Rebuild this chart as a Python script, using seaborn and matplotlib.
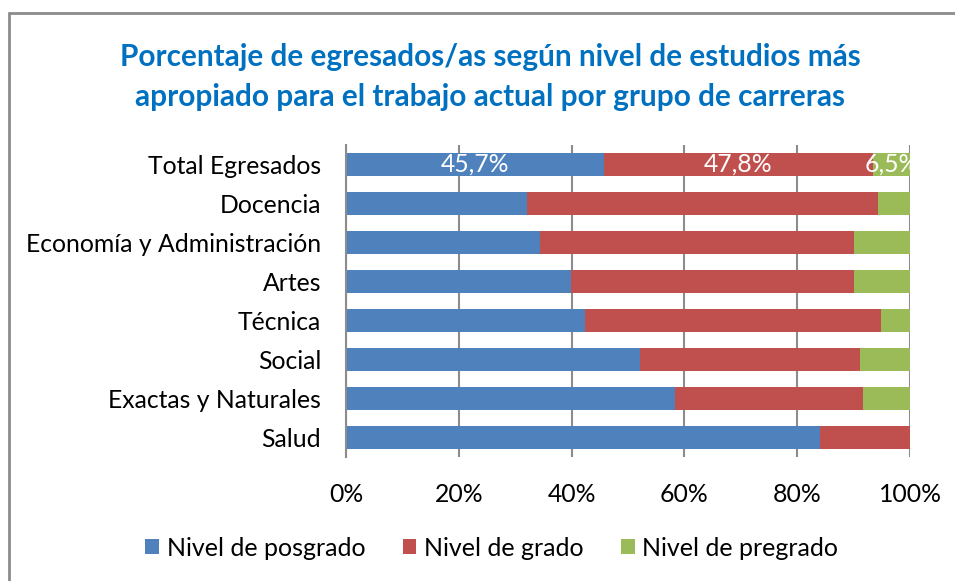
import matplotlib.pyplot as plt
import pandas as pd
import seaborn as sns
from matplotlib.lines import Line2D
from matplotlib.patches import Patch

# ===== DATA =====
categories = [
    "Total Egresados",
    "Docencia",
    "Economía y Administración",
    "Artes",
    "Técnica",
    "Social",
    "Exactas y Naturales",
    "Salud",
]
posgrado = [45.7, 32.1, 34.4, 39.9, 42.3, 52.2, 58.3, 84.0]
grado = [47.8, 62.3, 55.6, 50.1, 52.6, 39.0, 33.4, 16.0]
pregrado = [6.5, 5.6, 10.0, 10.0, 5.1, 8.8, 8.3, 0.0]
series_names = ["Nivel de posgrado", "Nivel de grado", "Nivel de pregrado"]
x_ticks = [0, 20, 40, 60, 80, 100]

colors = ["#4F81BD", "#C0504D", "#9BBB59"]

# ===== PLOT =====
sns.set_theme(style="white")
plt.rcParams["font.family"] = ["Lato", "DejaVu Sans"]
plt.rcParams["text.color"] = "black"

df = pd.DataFrame(
    {"cat": categories, "pos": posgrado, "gra": grado, "pre": pregrado}
)
df["cum_gra"] = df["pos"] + df["gra"]
df["cum_pre"] = df["cum_gra"] + df["pre"]

fig = plt.figure(figsize=(9.55, 5.81), dpi=100)
ax = fig.add_axes([346 / 955, 1 - 457 / 581, 564 / 955, 312 / 581])

# stacked bars drawn back to front
for col, color in zip(["cum_pre", "cum_gra", "pos"], colors[::-1]):
    sns.barplot(
        data=df, x=col, y="cat", orient="h", color=color,
        width=0.59, linewidth=0, saturation=1, ax=ax, zorder=2,
    )

ax.set_xlim(0, 100)
ax.set_xticks(x_ticks)
ax.set_xticklabels([f"{t}%" for t in x_ticks])
ax.set_xlabel("")
ax.set_ylabel("")
ax.grid(axis="x", color="#8c8c8c", linewidth=1.5, zorder=0)
ax.grid(axis="y", visible=False)
for side in ["top", "right", "bottom"]:
    ax.spines[side].set_visible(False)
ax.spines["left"].set_color("#8c8c8c")
ax.spines["left"].set_linewidth(1.5)
ax.tick_params(axis="y", length=0, pad=18, labelsize=17.8, labelcolor="black")
ax.tick_params(axis="x", length=0, pad=19, labelsize=17.8, labelcolor="black")

# data labels on the total row
segs = [
    (0, posgrado[0]),
    (posgrado[0], grado[0]),
    (posgrado[0] + grado[0], pregrado[0]),
]
for start, val in segs:
    ax.text(
        start + val / 2, 0, f"{val:.1f}%".replace(".", ","),
        ha="center", va="center", color="white", fontsize=17.8, zorder=5,
        clip_on=False,
    )

# title
fig.text(
    0.513, 1 - 77 / 581,
    "Porcentaje de egresados/as según nivel de estudios más\n"
    "apropiado para el trabajo actual por grupo de carreras",
    ha="center", va="center", color="#0070C0", fontsize=21.4,
    fontweight="bold", linespacing=1.5,
)

# legend
handles = [Patch(facecolor=c, edgecolor="none") for c in colors]
fig.legend(
    handles, series_names, loc="center", bbox_to_anchor=(0.515, 1 - 548 / 581),
    ncol=3, frameon=False, fontsize=18, handlelength=0.55, handleheight=0.55,
    handletextpad=0.3, columnspacing=1.5,
)

# outer border (left and top visible)
fig.add_artist(Line2D([9 / 955, 9 / 955], [0, 1 - 13 / 581],
                      transform=fig.transFigure, color="#8c8c8c", linewidth=2))
fig.add_artist(Line2D([9 / 955, 1], [1 - 13 / 581, 1 - 13 / 581],
                      transform=fig.transFigure, color="#8c8c8c", linewidth=2))

fig.savefig("out.png", dpi=100)
